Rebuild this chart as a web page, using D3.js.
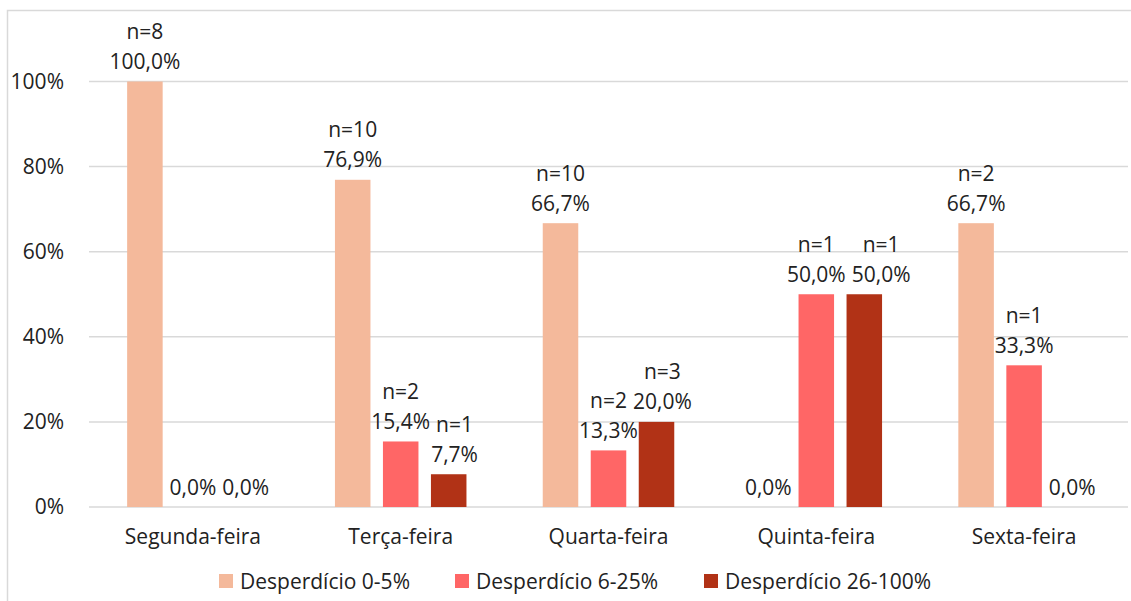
<!DOCTYPE html>
<html>
<head>
<meta charset="utf-8">
<script src="https://cdn.jsdelivr.net/npm/d3@7"></script>
<style>
  html, body { margin: 0; padding: 0; background: #fff; }
  svg { display: block; font-family: "Open Sans", "Liberation Sans", sans-serif; }
</style>
</head>
<body>
<svg id="chart" width="1131" height="601"></svg>
<script>
const categories = ["Segunda-feira", "Terça-feira", "Quarta-feira", "Quinta-feira", "Sexta-feira"];
const seriesNames = ["Desperdício 0-5%", "Desperdício 6-25%", "Desperdício 26-100%"];
const values0_5 = [100.0, 76.9, 66.7, 0.0, 66.7];
const values6_25 = [0.0, 15.4, 13.3, 50.0, 33.3];
const values26_100 = [0.0, 7.7, 20.0, 50.0, 0.0];
const n0_5 = [8, 10, 10, 0, 2];
const n6_25 = [0, 2, 2, 1, 1];
const n26_100 = [0, 1, 3, 1, 0];
const yTicks = [0, 20, 40, 60, 80, 100];
const colors = ["#F4B99B", "#FF6666", "#B13216"];

const seriesValues = [values0_5, values6_25, values26_100];
const seriesN = [n0_5, n6_25, n26_100];

const svg = d3.select("#chart");
const plotLeft = 89, plotRight = 1128, plotTop = 81.5, plotBottom = 507;

// chart border
svg.append("rect")
  .attr("x", 7.5).attr("y", 10.5).attr("width", 1140).attr("height", 620)
  .attr("fill", "none").attr("stroke", "#d9d9d9").attr("stroke-width", 1.5);

const x0 = d3.scaleBand().domain(categories).range([plotLeft, plotRight]);
const x1 = d3.scaleBand().domain(d3.range(3)).range([0, 144]).paddingInner(0.26).paddingOuter(0.13);
const y = d3.scaleLinear().domain([0, 100]).range([plotBottom, plotTop]);

// gridlines
svg.append("g").selectAll("line").data(yTicks).join("line")
  .attr("x1", plotLeft).attr("x2", plotRight)
  .attr("y1", d => y(d)).attr("y2", d => y(d))
  .attr("stroke", "#d9d9d9").attr("stroke-width", 1.5);

// y axis labels
const yAxis = d3.axisLeft(y).tickValues(yTicks).tickFormat(d => d + "%").tickSize(0).tickPadding(0);
const gy = svg.append("g").attr("transform", `translate(64,0)`).call(yAxis);
gy.select(".domain").remove();
gy.selectAll("text").attr("font-size", 21).attr("fill", "#222").attr("font-family", "Open Sans");

// x axis labels
const xAxis = d3.axisBottom(x0).tickSize(0).tickPadding(0);
const gx = svg.append("g").attr("transform", `translate(0,${plotBottom + 22})`).call(xAxis);
gx.select(".domain").remove();
gx.selectAll("text").attr("font-size", 21).attr("fill", "#222").attr("font-family", "Open Sans");

// bars
const data = [];
categories.forEach((c, i) => {
  seriesValues.forEach((vals, s) => {
    data.push({ cat: c, ci: i, s: s, v: vals[i], n: seriesN[s][i] });
  });
});
const bx = d => x0(d.cat) + x0.bandwidth() / 2 - 72 + x1(d.s);

svg.append("g").selectAll("rect").data(data.filter(d => d.v > 0)).join("rect")
  .attr("x", bx)
  .attr("y", d => y(d.v))
  .attr("width", x1.bandwidth())
  .attr("height", d => y(0) - y(d.v))
  .attr("fill", d => colors[d.s]);

// labels (each label block in its own group)
const fmt = v => v.toFixed(1).replace(".", ",") + "%";
const lg = svg.append("g").attr("font-size", 21).attr("fill", "#222").attr("text-anchor", "middle");
const blocks = [];
data.forEach(d => {
  const cx = bx(d) + x1.bandwidth() / 2;
  const cy = y(d.v) - 20;
  const g = lg.append("g");
  g.append("text").attr("x", cx).attr("y", cy).attr("dy", "0.36em").text(fmt(d.v));
  if (d.n > 0) {
    g.append("text").attr("x", cx).attr("y", cy - 30).attr("dy", "0.36em").text("n=" + d.n);
  }
  blocks.push({ d, g, dx: 0 });
});

// resolve horizontal collisions between neighbouring label blocks in the same category
const gap = 6;
function boxes(b) {
  const out = [];
  b.g.selectAll("text").each(function () {
    const bb = this.getBBox();
    out.push({ x0: bb.x + b.dx, x1: bb.x + bb.width + b.dx, y0: bb.y + 3, y1: bb.y + bb.height - 3 });
  });
  return out;
}
for (let i = 1; i < blocks.length; i++) {
  const a = blocks[i - 1], b = blocks[i];
  if (a.d.ci !== b.d.ci) continue;
  let need = 0;
  boxes(a).forEach(p => boxes(b).forEach(q => {
    if (p.y1 > q.y0 && q.y1 > p.y0) need = Math.max(need, p.x1 + gap - q.x0);
  }));
  if (need > 0) {
    b.dx += need;
    b.g.attr("transform", `translate(${b.dx},0)`);
  }
}

// legend
const legendX = [219, 455, 704];
const leg = svg.append("g");
seriesNames.forEach((name, i) => {
  leg.append("rect").attr("x", legendX[i]).attr("y", 574).attr("width", 14).attr("height", 14).attr("fill", colors[i]);
  leg.append("text").attr("x", legendX[i] + 21).attr("y", 581).attr("dy", "0.36em")
    .attr("font-size", 21).attr("fill", "#222").text(name);
});
</script>
</body>
</html>
